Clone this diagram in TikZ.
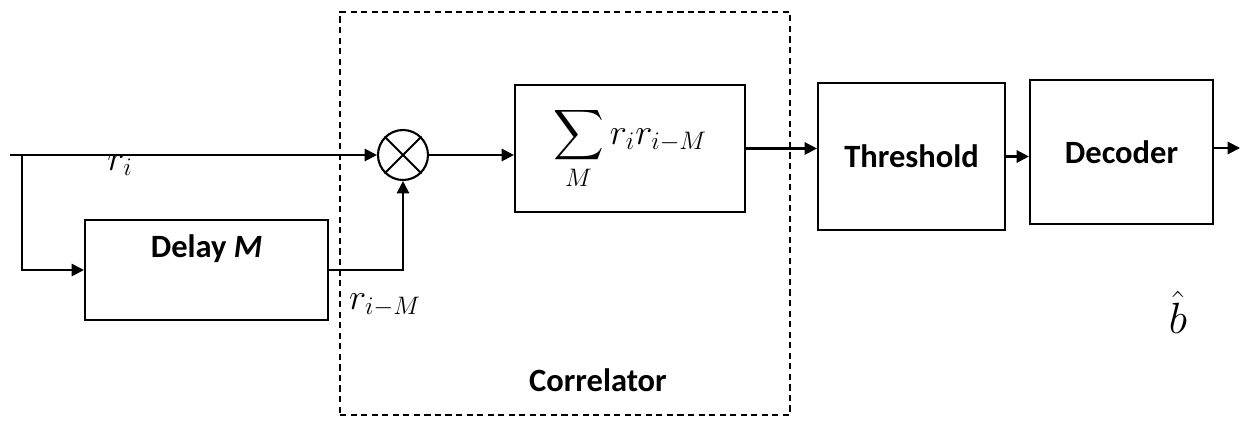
\documentclass[tikz,border=0pt]{standalone}
\usepackage{amsmath,amssymb}
\usepackage{fontspec}
\setmainfont{Carlito}
\usepackage{tikz}
\usetikzlibrary{shapes,arrows,positioning,calc,arrows.meta}

\begin{document}
\begin{tikzpicture}[line width=1.2pt, >={Triangle[length=7pt,width=7pt]},
    blk/.style={draw, line width=1.2pt, inner sep=0pt},
    lbl/.style={font=\fontsize{18.5}{22}\selectfont\bfseries},
    sym/.style={font=\fontsize{20}{24}\selectfont}]
    \useasboundingbox (0,0) rectangle (24.86,-8.46);

    % Correlator
    \node[draw, dash pattern=on 3.5pt off 2.5pt, minimum width=9cm, minimum height=8.06cm] (corr) at (11.3,-4.27) {};
    \node[lbl] (corrtxt) at (11.96,-7.6) {Correlator};

    % Blocks
    \node[blk, minimum width=4.86cm, minimum height=2cm,
          label={[lbl, yshift=0.42cm]center:{Delay \textit{M}}}] (delay) at (4.13,-5.4) {};
    \node[blk, circle, minimum size=1cm] (mult) at (8.06,-3.1) {};
    \draw (mult.north west) -- (mult.south east);
    \draw (mult.north east) -- (mult.south west);
    \node[blk, sym, minimum width=4.6cm, minimum height=2.54cm] (sum) at (12.6,-2.97) {$\displaystyle\sum_{M} r_i r_{i-M}$};
    \node[blk, lbl, minimum width=3.74cm, minimum height=2.94cm] (thr) at (18.23,-3.13) {Threshold};
    \node[blk, lbl, minimum width=3.66cm, minimum height=2.88cm] (dec) at (22.43,-3.04) {Decoder};

    % Signals
    \coordinate (in) at (0.2,-3.1);
    \coordinate (split) at (0.44,-3.1);
    \coordinate (out) at (24.8,-2.96);
    \draw (in) -- (split);
    \draw[->] (split) -- (mult.west);
    \draw[->] (split) |- (delay.west);
    \draw[->] (delay.east) -| (mult.south);
    \draw[->] (mult.east) -- (mult.east -| sum.west);
    \draw[->] (sum.east) -- (sum.east -| thr.west);
    \draw[->] (thr.east) -- (thr.east -| dec.west);
    \draw[->] (dec.east |- out) -- (out);

    % Labels
    \node[sym] (ri) at (2.4,-3.3) {$r_i$};
    \node[sym] (riM) at (7.7,-6.1) {$r_{i-M}$};
    \node[sym, font=\fontsize{24}{28}\selectfont] (bhat) at (23.56,-6.25) {$\hat{b}$};
\end{tikzpicture}
\end{document}
